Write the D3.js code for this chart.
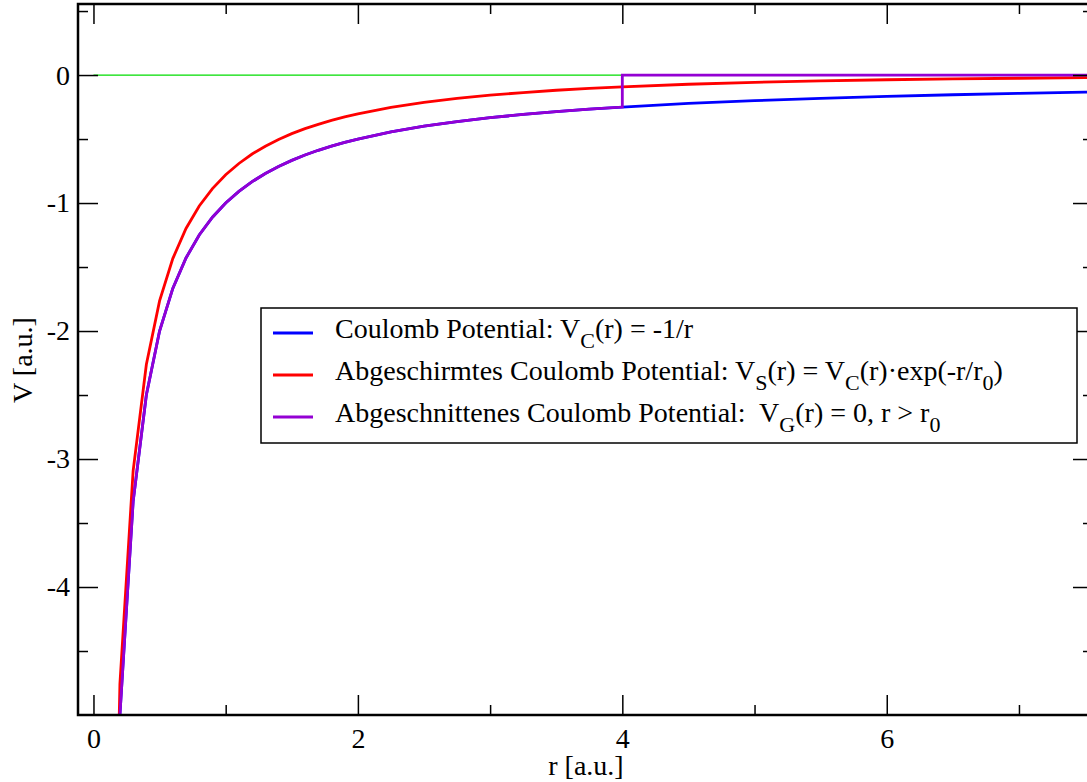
<!DOCTYPE html>
<html>
<head>
<meta charset="utf-8">
<script src="https://cdn.jsdelivr.net/npm/d3@7"></script>
<style>
  body { margin: 0; background: #fff; }
  .axis path { display: none; }
  .axis line { stroke: #000; stroke-width: 1.5; }
</style>
</head>
<body>
<div class="chart"></div>
<script>

// sample radii (a.u.)
const radii = [0.1, 0.2, 0.3, 0.4, 0.5, 0.6, 0.7, 0.8, 0.9, 1.0, 1.1, 1.2, 1.3, 1.4, 1.5, 1.6, 1.7, 1.8, 1.9, 2.0,
               2.25, 2.5, 2.75, 3.0, 3.25, 3.5, 3.75, 4.0, 4.5, 5.0, 5.5, 6.0, 6.5, 7.0, 7.5, 8.0];
// Coulomb potential
const coulomb = [-10.0, -5.000, -3.333, -2.500, -2.000, -1.667, -1.429, -1.250, -1.111, -1.000, -0.909, -0.833, -0.769,
                 -0.714, -0.667, -0.625, -0.588, -0.556, -0.526, -0.500, -0.444, -0.400, -0.364, -0.333, -0.308,
                 -0.286, -0.267, -0.250, -0.222, -0.200, -0.182, -0.167, -0.154, -0.143, -0.133, -0.125];
// screened Coulomb potential (r0 = 4)
const screened = [-9.753, -4.756, -3.092, -2.262, -1.765, -1.434, -1.199, -1.023, -0.887, -0.779, -0.691, -0.617, -0.556,
                  -0.503, -0.458, -0.419, -0.385, -0.354, -0.327, -0.303, -0.253, -0.214, -0.183, -0.157, -0.137,
                  -0.119, -0.104, -0.092, -0.072, -0.057, -0.046, -0.037, -0.030, -0.025, -0.020, -0.017];
// cut-off Coulomb potential
const cutRadii = [0.1, 0.2, 0.3, 0.4, 0.5, 0.6, 0.7, 0.8, 0.9, 1.0, 1.1, 1.2, 1.3, 1.4, 1.5, 1.6, 1.7, 1.8, 1.9, 2.0,
                  2.25, 2.5, 2.75, 3.0, 3.25, 3.5, 3.75, 4.0, 4.0, 8.0];
const cutoff = [-10.0, -5.000, -3.333, -2.500, -2.000, -1.667, -1.429, -1.250, -1.111, -1.000, -0.909, -0.833, -0.769,
                -0.714, -0.667, -0.625, -0.588, -0.556, -0.526, -0.500, -0.444, -0.400, -0.364, -0.333, -0.308,
                -0.286, -0.267, -0.250, 0, 0];
// zero line
const zeroRadii = [0, 8];
const zero = [0, 0];

const xMajor = [0, 2, 4, 6];
const xMinor = [1, 3, 5, 7];
const yMajor = [0, -1, -2, -3, -4];
const yMinor = [0.5, -0.5, -1.5, -2.5, -3.5, -4.5];

const legendItems = [
	{ color: "#0000ff", parts: [["Coulomb Potential: V"], ["C", "sub"], ["(r) = -1/r"]] },
	{ color: "#ff0000", parts: [["Abgeschirmtes Coulomb Potential: V"], ["S", "sub"], ["(r) = V"], ["C", "sub"], ["(r)\u00b7exp(-r/r"], ["0", "sub"], [")"]] },
	{ color: "#9400d3", parts: [["Abgeschnittenes Coulomb Potential:\u00a0 V"], ["G", "sub"], ["(r) = 0, r > r"], ["0", "sub"]] }
];

const width = 1087;
const height = 782;
const plot = { left: 78, right: 1093, top: 4, bottom: 715 };
const font = "'Liberation Serif', 'Times New Roman', Times, serif";
const fontSize = 28;
const subSize = 22;

const svg = d3.select(".chart").append("svg")
	.attr("width", width)
	.attr("height", height)
	.attr("font-family", font);

const x = d3.scaleLinear().domain([-0.117, 7.56]).range([plot.left, plot.right]);
const y = d3.scaleLinear().domain([-5, 0.555]).range([plot.bottom, plot.top]);

svg.append("clipPath").attr("id", "clip")
	.append("rect")
		.attr("x", plot.left).attr("y", plot.top)
		.attr("width", plot.right - plot.left).attr("height", plot.bottom - plot.top);

const line = d3.line().x((d) => x(d[0])).y((d) => y(d[1]));
const zip = (a, b) => a.map((v, i) => [v, b[i]]);

const curves = svg.append("g").attr("clip-path", "url(#clip)");

curves.append("path")
	.attr("d", line(zip(zeroRadii, zero)))
	.attr("fill", "none").attr("stroke", "#00dd00").attr("stroke-width", 1.2);

curves.append("path")
	.attr("d", line(zip(radii, coulomb)))
	.attr("fill", "none").attr("stroke", "#0000ff").attr("stroke-width", 2.8);

curves.append("path")
	.attr("d", line(zip(radii, screened)))
	.attr("fill", "none").attr("stroke", "#ff0000").attr("stroke-width", 2.8);

curves.append("path")
	.attr("d", line(zip(cutRadii, cutoff)))
	.attr("fill", "none").attr("stroke", "#9400d3").attr("stroke-width", 2.8);

// axes: ticks point inward, mirrored on top and right
const styleAxis = (g) => g.attr("font-family", font).attr("font-size", fontSize);

svg.append("g").attr("class", "axis")
	.attr("transform", `translate(0,${plot.bottom})`)
	.call(d3.axisBottom(x).tickValues(xMajor).tickSize(-20).tickPadding(13).tickFormat(d3.format("d")))
	.call(styleAxis);
svg.append("g").attr("class", "axis")
	.attr("transform", `translate(0,${plot.bottom})`)
	.call(d3.axisBottom(x).tickValues(xMinor).tickSize(-10).tickFormat(""));
svg.append("g").attr("class", "axis")
	.attr("transform", `translate(0,${plot.top})`)
	.call(d3.axisTop(x).tickValues(xMajor).tickSize(-20).tickFormat(""));
svg.append("g").attr("class", "axis")
	.attr("transform", `translate(0,${plot.top})`)
	.call(d3.axisTop(x).tickValues(xMinor).tickSize(-10).tickFormat(""));

svg.append("g").attr("class", "axis")
	.attr("transform", `translate(${plot.left},0)`)
	.call(d3.axisLeft(y).tickValues(yMajor).tickSize(-20).tickPadding(8).tickFormat((d) => d === 0 ? "0" : "-" + Math.abs(d)))
	.call(styleAxis);
svg.append("g").attr("class", "axis")
	.attr("transform", `translate(${plot.left},0)`)
	.call(d3.axisLeft(y).tickValues(yMinor).tickSize(-10).tickFormat(""));
svg.append("g").attr("class", "axis")
	.attr("transform", `translate(${plot.right},0)`)
	.call(d3.axisRight(y).tickValues(yMajor).tickSize(-20).tickFormat(""));
svg.append("g").attr("class", "axis")
	.attr("transform", `translate(${plot.right},0)`)
	.call(d3.axisRight(y).tickValues(yMinor).tickSize(-10).tickFormat(""));

// frame
svg.append("rect")
	.attr("x", plot.left).attr("y", plot.top)
	.attr("width", plot.right - plot.left).attr("height", plot.bottom - plot.top)
	.attr("fill", "none").attr("stroke", "#000").attr("stroke-width", 2.5);

// axis titles
svg.append("text")
	.attr("x", 586).attr("y", 775)
	.attr("text-anchor", "middle").attr("font-size", fontSize)
	.text("r [a.u.]");
svg.append("text")
	.attr("transform", "translate(32,360) rotate(-90)")
	.attr("text-anchor", "middle").attr("font-size", fontSize)
	.text("V [a.u.]");

// legend
const legend = svg.append("g").attr("transform", "translate(261,308)");
legend.append("rect")
	.attr("width", 816).attr("height", 135)
	.attr("fill", "#fff").attr("stroke", "#000").attr("stroke-width", 1.5);

const rows = legend.selectAll(".row")
	.data(legendItems).enter()
	.append("g")
		.attr("class", "row")
		.attr("transform", (d, i) => `translate(0,${25 + i * 42})`);

rows.append("line")
	.attr("x1", 12).attr("x2", 52)
	.attr("stroke", (d) => d.color).attr("stroke-width", 2.8);

const labels = rows.append("text")
	.attr("x", 74).attr("y", 5)
	.attr("font-size", fontSize);

labels.selectAll("tspan")
	.data((d) => d.parts).enter()
	.append("tspan")
		.attr("font-size", (d) => d[1] === "sub" ? subSize : fontSize)
		.attr("dy", (d, i, nodes) => {
			const prev = i > 0 ? d3.select(nodes[i - 1]).datum()[1] : null;
			if (d[1] === "sub" && prev !== "sub") return 10;
			if (d[1] !== "sub" && prev === "sub") return -10;
			return 0;
		})
		.text((d) => d[0]);

</script>
</body>
</html>
